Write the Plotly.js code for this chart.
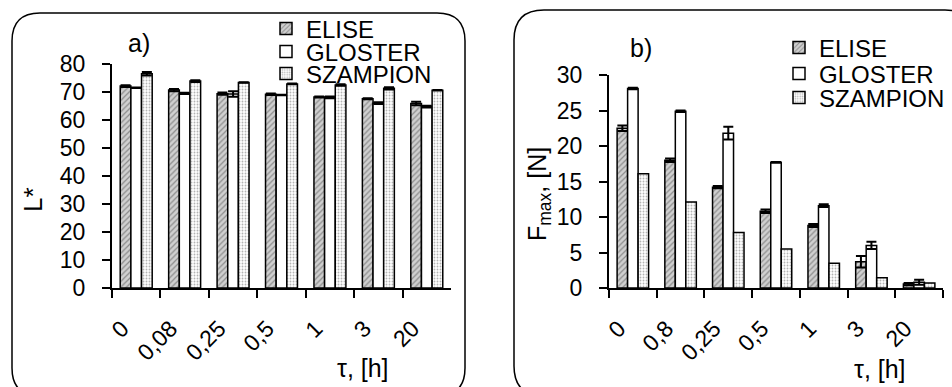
<!DOCTYPE html>
<html>
<head>
<meta charset="utf-8">
<script src="https://cdn.plot.ly/plotly-3.0.1.min.js"></script>
<style>html,body{margin:0;padding:0;background:#fff;}#chart{width:952px;height:387px;}</style>
</head>
<body>
<div id="chart"></div>
<script>
// ---- data ----
const seriesNames = ["ELISE", "GLOSTER", "SZAMPION"];
const tickLabelsL = ["0", "0,08", "0,25", "0,5", "1", "3", "20"];
const tickLabelsF = ["0", "0,8", "0,25", "0,5", "1", "3", "20"];

const lElise    = [72.1, 70.7, 69.4, 69.2, 68.2, 67.6, 65.9];
const lGloster  = [71.5, 69.5, 69.3, 68.9, 68.1, 66.0, 64.8];
const lSzampion = [76.5, 73.9, 73.4, 72.9, 72.5, 71.3, 70.6];
const lEliseErr    = [0.3, 0.4, 0.4, 0.3, 0.2, 0.2, 0.6];
const lGlosterErr  = [0.1, 0.2, 1.0, 0.1, 0.3, 0.3, 0.3];
const lSzampionErr = [0.6, 0.3, 0.1, 0.1, 0.3, 0.4, 0.1];

const fElise    = [22.5, 18.0, 14.2, 10.8, 8.8, 3.7, 0.55];
const fGloster  = [28.1, 24.9, 21.8, 17.7, 11.6, 6.0, 0.8];
const fSzampion = [16.1, 12.1, 7.8, 5.5, 3.5, 1.45, 0.7];
const fEliseErr   = [0.4, 0.25, 0.15, 0.25, 0.2, 0.8, 0.15];
const fGlosterErr = [0.1, 0.1, 0.9, 0.05, 0.2, 0.5, 0.35];

// ---- styles ----
const W = 952, H = 387;
const px = x => x / W;
const py = y => 1 - y / H;
const FONT = "Liberation Sans, Arial, sans-serif";

const fills = [
  {color: "#c4c4c4", pattern: {shape: "/", fgcolor: "#8c8c8c", bgcolor: "#d0d0d0", size: 4, solidity: 0.3}},
  {color: "#ffffff"},
  {color: "#ececec", pattern: {shape: ".", fgcolor: "#b4b4b4", bgcolor: "#ffffff", size: 3, solidity: 0.3}}
];

function barTrace(cats, vals, errs, idx, xa, ya, legendId) {
  const m = Object.assign({line: {color: "#000", width: 1.5}}, fills[idx]);
  const t = {
    type: "bar", name: seriesNames[idx], x: cats, y: vals,
    xaxis: xa, yaxis: ya, marker: m, legend: legendId,
    hoverinfo: "x+y+name"
  };
  if (errs) {
    t.error_y = {type: "data", array: errs, visible: true, color: "#000", thickness: 2, width: 5};
  }
  return t;
}

const data = [
  barTrace(tickLabelsL, lElise, lEliseErr, 0, "x", "y", "legend"),
  barTrace(tickLabelsL, lGloster, lGlosterErr, 1, "x", "y", "legend2"),
  barTrace(tickLabelsL, lSzampion, lSzampionErr, 2, "x", "y", "legend3"),
  barTrace(tickLabelsF, fElise, fEliseErr, 0, "x2", "y2", "legend4"),
  barTrace(tickLabelsF, fGloster, fGlosterErr, 1, "x2", "y2", "legend5"),
  barTrace(tickLabelsF, fSzampion, null, 2, "x2", "y2", "legend6")
];

function xAxis(domain, anchor) {
  return {
    domain: domain, anchor: anchor, type: "category",
    showline: true, linecolor: "#000", linewidth: 2, mirror: false,
    ticks: "outside", tickson: "boundaries", ticklen: 8, tickwidth: 2, tickcolor: "#000",
    tickangle: -45, tickfont: {family: FONT, size: 23, color: "#000"},
    ticklabelstandoff: 16, ticklabelshift: -14,
    showgrid: false, zeroline: false, fixedrange: true
  };
}
function yAxis(domain, anchor, range, dtick) {
  return {
    domain: domain, anchor: anchor, range: range, dtick: dtick, tick0: 0,
    showline: true, linecolor: "#000", linewidth: 2,
    ticks: "outside", ticklen: 8, tickwidth: 2, tickcolor: "#000",
    tickfont: {family: FONT, size: 23, color: "#000"},
    ticklabelstandoff: 12,
    showgrid: false, zeroline: false, fixedrange: true
  };
}

function legendAt(xPix, yPix) {
  return {
    x: px(xPix), y: py(yPix), xanchor: "left", yanchor: "middle",
    bgcolor: "rgba(0,0,0,0)", borderwidth: 0,
    font: {family: FONT, size: 24, color: "#000"},
    itemclick: false, itemdoubleclick: false
  };
}

function roundedRect(x0, y0, x1, y1, r) {
  const P = (x, y) => px(x) + "," + py(y);
  return "M" + P(x0 + r, y0) + " L" + P(x1 - r, y0) + " Q" + P(x1, y0) + " " + P(x1, y0 + r) +
         " L" + P(x1, y1 - r) + " Q" + P(x1, y1) + " " + P(x1 - r, y1) +
         " L" + P(x0 + r, y1) + " Q" + P(x0, y1) + " " + P(x0, y1 - r) +
         " L" + P(x0, y0 + r) + " Q" + P(x0, y0) + " " + P(x0 + r, y0) + " Z";
}

function note(text, xPix, yPix, size, angle) {
  return {
    text: text, x: px(xPix), y: py(yPix), xref: "paper", yref: "paper",
    xanchor: "center", yanchor: "middle", showarrow: false,
    textangle: angle || 0, font: {family: FONT, size: size, color: "#000"}
  };
}

const layout = {
  width: W, height: H,
  margin: {l: 0, r: 0, t: 0, b: 0, pad: 0},
  paper_bgcolor: "#fff", plot_bgcolor: "#fff",
  font: {family: FONT, color: "#000"},
  barmode: "group", bargap: 0.34, bargroupgap: 0,
  showlegend: true,
  xaxis: xAxis([px(112), px(451)], "y"),
  yaxis: yAxis([py(288), py(64)], "x", [0, 80], 10),
  xaxis2: xAxis([px(609), px(943)], "y2"),
  yaxis2: yAxis([py(288), py(75)], "x2", [0, 30], 5),
  legend: legendAt(266, 29),
  legend2: legendAt(266, 52),
  legend3: legendAt(266, 74),
  legend4: legendAt(779, 48),
  legend5: legendAt(779, 74),
  legend6: legendAt(779, 98),
  shapes: [
    {type: "path", xref: "paper", yref: "paper", path: roundedRect(12, 13, 465, 396, 28), line: {color: "#000", width: 1.5}},
    {type: "path", xref: "paper", yref: "paper", path: roundedRect(514, 10, 975, 396, 30), line: {color: "#000", width: 1.5}}
  ],
  annotations: [
    note("a)", 139, 43, 25),
    note("b)", 641, 48, 25),
    note("L*", 33, 200, 26, -90),
    note("F<sub>max</sub>, [N]", 539, 194, 25, -90),
    note("τ, [h]", 363, 368, 25),
    note("τ, [h]", 880, 369, 25)
  ]
};

Plotly.newPlot("chart", data, layout, {staticPlot: true, displayModeBar: false});
</script>
</body>
</html>
